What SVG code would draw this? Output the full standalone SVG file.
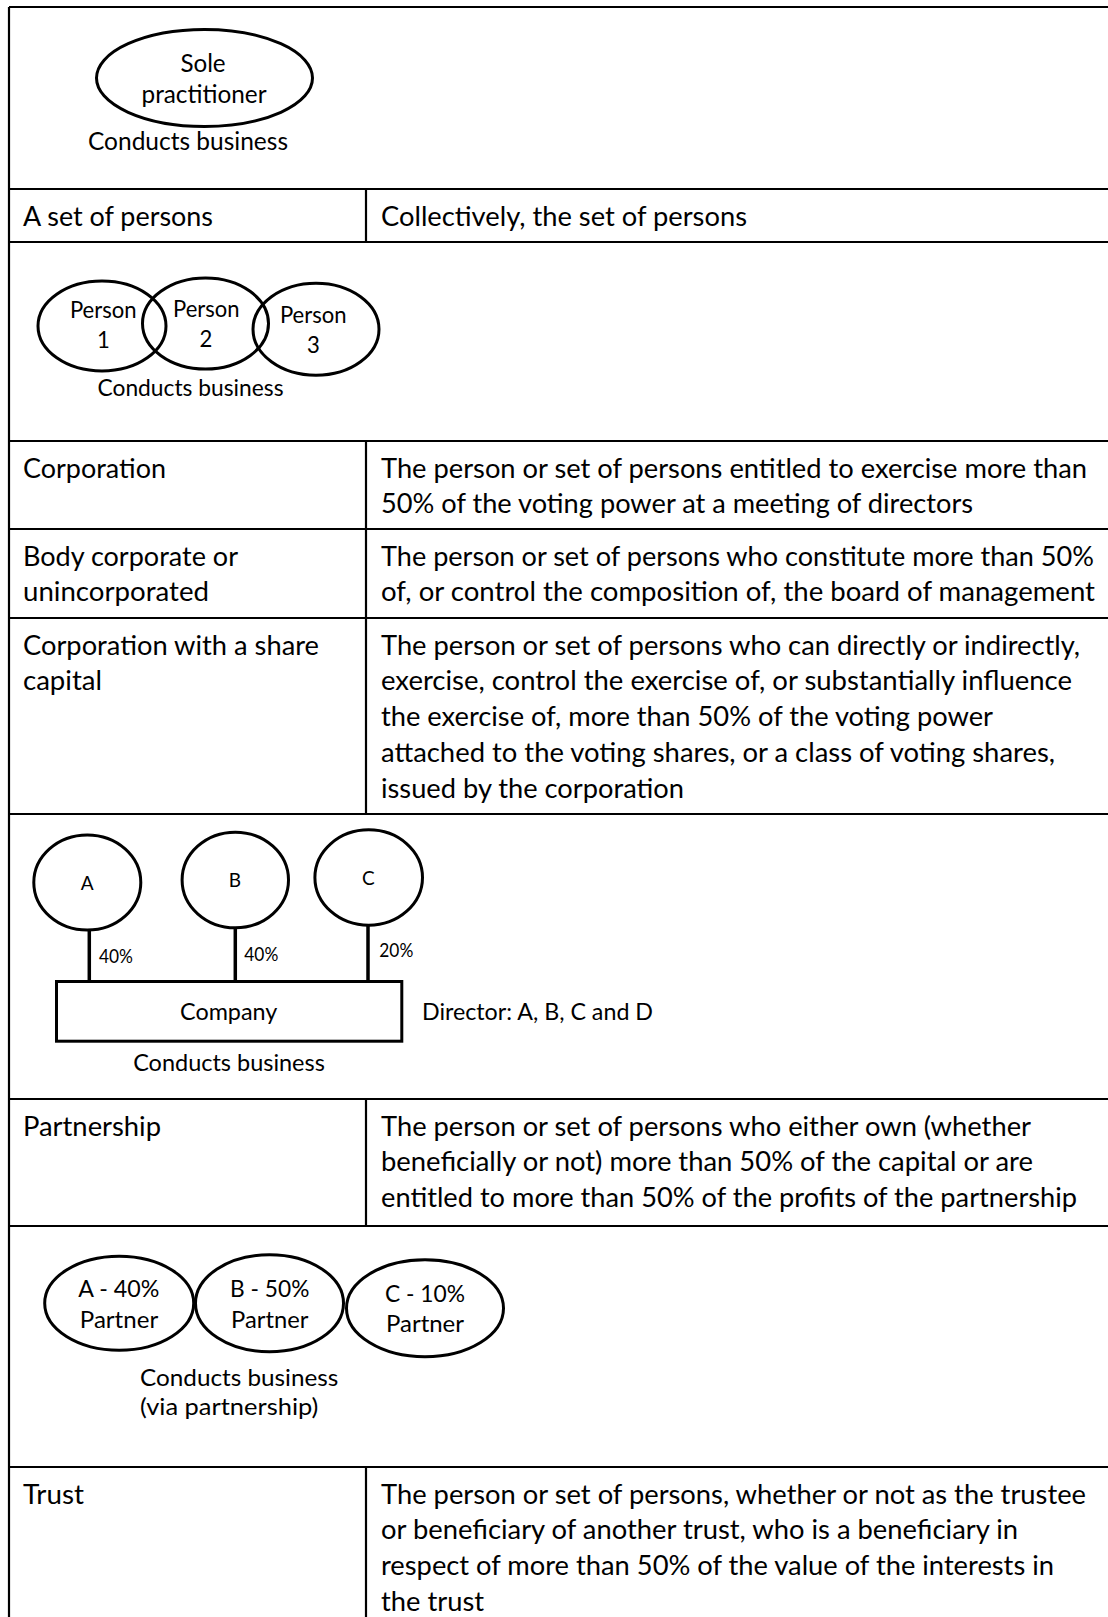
<svg xmlns="http://www.w3.org/2000/svg" width="1108" height="1617" viewBox="0 0 1108 1617">
<style>
.ln{stroke:#000;stroke-width:2.2;fill:none}
.shp{stroke:#000;stroke-width:3;fill:none}
.cn{stroke:#000;stroke-width:3.5;fill:none}
text{font-family:Lato,'Open Sans','Liberation Sans',sans-serif;fill:#000}
.m{font-size:27.3px}
.c{text-anchor:middle}
</style>
<rect width="1108" height="1617" fill="#fff"/>
<g id="table">
<path class="ln" d="M9 7H1108M9 7V1617M9 189H1108M9 242H1108M9 441H1108M9 529H1108M9 618H1108M9 814H1108M9 1099H1108M9 1226H1108M9 1467H1108M366 189V242M366 441V814M366 1099V1226M366 1467V1617"/>
</g>
<g id="table-text" class="m">
<text x="23" y="225.5" textLength="190" lengthAdjust="spacingAndGlyphs">A set of persons</text>
<text x="381" y="225.5" textLength="366" lengthAdjust="spacingAndGlyphs">Collectively, the set of persons</text>
<text x="23" y="477.5" textLength="143" lengthAdjust="spacingAndGlyphs">Corporation</text>
<text x="381" y="477.5" textLength="706" lengthAdjust="spacingAndGlyphs">The person or set of persons entitled to exercise more than</text>
<text x="381" y="513.3" textLength="592" lengthAdjust="spacingAndGlyphs">50% of the voting power at a meeting of directors</text>
<text x="23" y="565.5" textLength="215" lengthAdjust="spacingAndGlyphs">Body corporate or</text>
<text x="23" y="601.3" textLength="186" lengthAdjust="spacingAndGlyphs">unincorporated</text>
<text x="381" y="565.5" textLength="713" lengthAdjust="spacingAndGlyphs">The person or set of persons who constitute more than 50%</text>
<text x="381" y="601.3" textLength="714" lengthAdjust="spacingAndGlyphs">of, or control the composition of, the board of management</text>
<text x="23" y="654.5" textLength="296" lengthAdjust="spacingAndGlyphs">Corporation with a share</text>
<text x="23" y="690.3" textLength="79" lengthAdjust="spacingAndGlyphs">capital</text>
<text x="381" y="654.5" textLength="699" lengthAdjust="spacingAndGlyphs">The person or set of persons who can directly or indirectly,</text>
<text x="381" y="690.3" textLength="691" lengthAdjust="spacingAndGlyphs">exercise, control the exercise of, or substantially influence</text>
<text x="381" y="726.1" textLength="612" lengthAdjust="spacingAndGlyphs">the exercise of, more than 50% of the voting power</text>
<text x="381" y="761.9" textLength="674" lengthAdjust="spacingAndGlyphs">attached to the voting shares, or a class of voting shares,</text>
<text x="381" y="797.7" textLength="303" lengthAdjust="spacingAndGlyphs">issued by the corporation</text>
<text x="23" y="1135.5" textLength="138" lengthAdjust="spacingAndGlyphs">Partnership</text>
<text x="381" y="1135.5" textLength="650" lengthAdjust="spacingAndGlyphs">The person or set of persons who either own (whether</text>
<text x="381" y="1171.3" textLength="652" lengthAdjust="spacingAndGlyphs">beneficially or not) more than 50% of the capital or are</text>
<text x="381" y="1207.1" textLength="696" lengthAdjust="spacingAndGlyphs">entitled to more than 50% of the profits of the partnership</text>
<text x="23" y="1503.5" textLength="61" lengthAdjust="spacingAndGlyphs">Trust</text>
<text x="381" y="1503.5" textLength="705" lengthAdjust="spacingAndGlyphs">The person or set of persons, whether or not as the trustee</text>
<text x="381" y="1539.3" textLength="637" lengthAdjust="spacingAndGlyphs">or beneficiary of another trust, who is a beneficiary in</text>
<text x="381" y="1575.1" textLength="673" lengthAdjust="spacingAndGlyphs">respect of more than 50% of the value of the interests in</text>
<text x="381" y="1610.9" textLength="103" lengthAdjust="spacingAndGlyphs">the trust</text>
</g>
<g id="sole-practitioner">
<ellipse class="shp" cx="204.5" cy="78" rx="108" ry="48.5"/>
<text class="c" x="203" y="72" style="font-size:24.2px">Sole</text>
<text class="c" x="204" y="103" style="font-size:24.2px" textLength="125" lengthAdjust="spacingAndGlyphs">practitioner</text>
</g>
<text id="sole-label" class="c" x="188" y="149.6" style="font-size:24.8px" textLength="200" lengthAdjust="spacingAndGlyphs">Conducts business</text>
<g id="person-1">
<ellipse class="shp" cx="102" cy="326" rx="64" ry="45"/>
<text class="c" x="103.3" y="318" style="font-size:22.1px" textLength="66.7" lengthAdjust="spacingAndGlyphs">Person</text>
<text class="c" x="103.3" y="348.3" style="font-size:22.1px">1</text>
</g>
<g id="person-2">
<ellipse class="shp" cx="205.5" cy="323.5" rx="63" ry="45.5"/>
<text class="c" x="206.3" y="317" style="font-size:22.1px" textLength="66.5" lengthAdjust="spacingAndGlyphs">Person</text>
<text class="c" x="206" y="347.3" style="font-size:22.1px">2</text>
</g>
<g id="person-3">
<ellipse class="shp" cx="316" cy="329.2" rx="63" ry="46"/>
<text class="c" x="313.3" y="323" style="font-size:22.1px" textLength="66.7" lengthAdjust="spacingAndGlyphs">Person</text>
<text class="c" x="313.3" y="353.3" style="font-size:22.1px">3</text>
</g>
<text id="set-label" class="c" x="190.5" y="396.3" style="font-size:23px" textLength="186" lengthAdjust="spacingAndGlyphs">Conducts business</text>
<g id="connectors">
<path class="cn" d="M89.3 930V980M235.3 928V980M368 926V980"/>
<text x="99" y="962.7" style="font-size:18.6px" textLength="34" lengthAdjust="spacingAndGlyphs">40%</text>
<text x="244.3" y="960.7" style="font-size:18.6px" textLength="34" lengthAdjust="spacingAndGlyphs">40%</text>
<text x="379.3" y="956.7" style="font-size:18.6px" textLength="34" lengthAdjust="spacingAndGlyphs">20%</text>
</g>
<g id="shareholder-a">
<ellipse class="shp" cx="87.3" cy="882.5" rx="53.5" ry="47.5"/>
<text class="c" x="87.3" y="890" style="font-size:19px">A</text>
</g>
<g id="shareholder-b">
<ellipse class="shp" cx="235.3" cy="880" rx="53.2" ry="47.8"/>
<text class="c" x="235" y="887.3" style="font-size:19px">B</text>
</g>
<g id="shareholder-c">
<ellipse class="shp" cx="368.7" cy="877.5" rx="53.8" ry="47.7"/>
<text class="c" x="368.3" y="885" style="font-size:19px">C</text>
</g>
<g id="company">
<rect class="shp" x="56.5" y="981.5" width="345.3" height="59.7"/>
<text class="c" x="228.7" y="1020" style="font-size:23.5px" textLength="97.3" lengthAdjust="spacingAndGlyphs">Company</text>
</g>
<text id="company-label" class="c" x="229" y="1070.7" style="font-size:23.8px" textLength="191.7" lengthAdjust="spacingAndGlyphs">Conducts business</text>
<text id="directors" x="422" y="1020" style="font-size:23.8px" textLength="231" lengthAdjust="spacingAndGlyphs">Director: A, B, C and D</text>
<g id="partner-a">
<ellipse class="shp" cx="119.2" cy="1303.3" rx="74.5" ry="47"/>
<text class="c" x="118.8" y="1296.7" style="font-size:23.9px" textLength="81" lengthAdjust="spacingAndGlyphs">A - 40%</text>
<text class="c" x="119" y="1328.3" style="font-size:23.9px" textLength="78.3" lengthAdjust="spacingAndGlyphs">Partner</text>
</g>
<g id="partner-b">
<ellipse class="shp" cx="269.5" cy="1303.3" rx="74" ry="48.5"/>
<text class="c" x="269.7" y="1296.7" style="font-size:23.9px" textLength="79.3" lengthAdjust="spacingAndGlyphs">B - 50%</text>
<text class="c" x="269.7" y="1328.3" style="font-size:23.9px" textLength="77.3" lengthAdjust="spacingAndGlyphs">Partner</text>
</g>
<g id="partner-c">
<ellipse class="shp" cx="425" cy="1308.3" rx="78.5" ry="48.5"/>
<text class="c" x="425" y="1301.7" style="font-size:23.9px" textLength="80" lengthAdjust="spacingAndGlyphs">C - 10%</text>
<text class="c" x="425" y="1331.7" style="font-size:23.9px" textLength="78" lengthAdjust="spacingAndGlyphs">Partner</text>
</g>
<g id="partnership-label" style="font-size:23.9px">
<text x="140" y="1385.7" textLength="198.3" lengthAdjust="spacingAndGlyphs">Conducts business</text>
<text x="140" y="1415" textLength="178.3" lengthAdjust="spacingAndGlyphs">(via partnership)</text>
</g>
</svg>
